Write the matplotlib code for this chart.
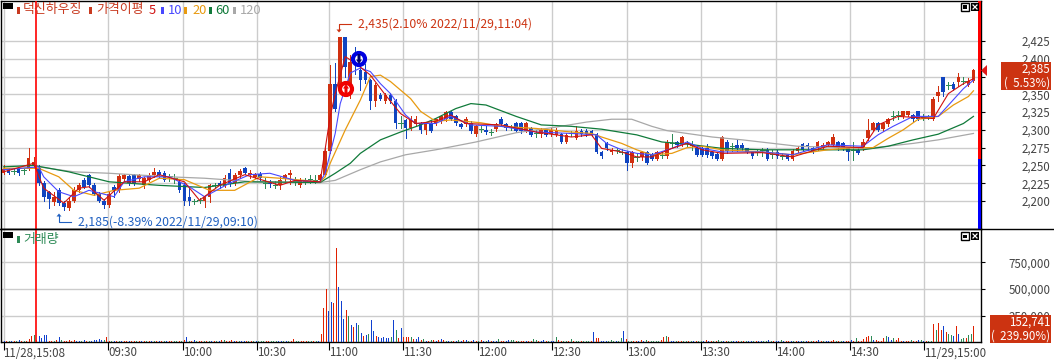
import numpy as np
import matplotlib
matplotlib.use('Agg')
import matplotlib.pyplot as plt
from matplotlib.lines import Line2D
from matplotlib.patches import Rectangle, Polygon, Circle

W, H = 1054, 361
plt.rcParams['font.family'] = ['Noto Sans CJK KR', 'DejaVu Sans']

# --- Price data (one candle per 5 px) ---
opens = [
    2240,2245,2242,2245,2243,2245,2250,2246,2225,2212,
    2198,2215,2197,2190,2200,2215,2230,2237,2222,2210,
    2200,2195,2220,2215,2231,2235,2236,2231,2222,2230,
    2236,2241,2240,2235,2233,2227,2222,2205,2200,2201,
    2200,2205,2222,2226,2221,2240,2225,2236,2247,2236,
    2234,2238,2226,2226,2222,2222,2232,2236,2228,2222,
    2228,2231,2230,2230,2236,2270,2365,2360,2430,2365,
    2400,2384,2382,2370,2340,2349,2340,2349,2340,2310,
    2314,2302,2308,2309,2300,2309,2309,2312,2315,2325,
    2319,2308,2308,2310,2294,2301,2300,2297,2301,2315,
    2308,2304,2309,2309,2299,2302,2296,2294,2300,2294,
    2293,2294,2283,2295,2289,2299,2299,2299,2294,2269,
    2281,2269,2272,2269,2269,2253,2262,2262,2269,2265,
    2259,2265,2263,2282,2283,2280,2281,2279,2274,2274,
    2274,2269,2266,2259,2283,2278,2279,2279,2274,2269,
    2269,2272,2272,2266,2269,2263,2265,2259,2271,2280,
    2279,2274,2274,2274,2279,2279,2283,2281,2274,2272,
    2272,2274,2288,2300,2309,2301,2308,2319,2321,2319,
    2321,2321,2326,2318,2318,2315,2348,2374,2363,2365,
    2368,2369,2363,2369]
closes = [
    2245,2240,2242,2240,2243,2260,2255,2225,2205,2203,
    2205,2197,2192,2200,2215,2222,2220,2222,2210,2200,
    2195,2210,2215,2235,2236,2225,2225,2236,2232,2236,
    2241,2236,2230,2235,2233,2215,2200,2200,2200,2201,
    2205,2222,2222,2221,2232,2225,2236,2242,2240,2240,
    2238,2233,2226,2224,2222,2230,2236,2240,2228,2228,
    2228,2231,2230,2236,2270,2365,2330,2430,2388,2396,
    2393,2370,2370,2340,2363,2344,2349,2340,2309,2310,
    2302,2314,2315,2300,2309,2299,2315,2319,2325,2316,
    2309,2304,2315,2299,2305,2301,2297,2297,2308,2308,
    2302,2304,2299,2299,2309,2293,2296,2300,2293,2300,
    2300,2283,2293,2295,2299,2294,2294,2294,2269,2263,
    2274,2272,2272,2269,2253,2269,2262,2269,2254,2259,
    2269,2265,2283,2282,2279,2290,2281,2279,2265,2265,
    2265,2263,2259,2290,2270,2278,2274,2274,2269,2263,
    2269,2272,2259,2266,2263,2263,2259,2271,2274,2272,
    2276,2269,2283,2279,2283,2290,2274,2274,2269,2272,
    2268,2283,2300,2309,2300,2309,2315,2319,2321,2326,
    2326,2315,2315,2318,2318,2344,2354,2354,2363,2358,
    2374,2369,2369,2384]
highs = [
    2250,2247,2246,2246,2245,2275,2262,2250,2228,2214,
    2212,2218,2200,2205,2220,2226,2232,2238,2226,2212,
    2203,2213,2223,2238,2238,2238,2238,2238,2234,2240,
    2246,2243,2242,2238,2238,2230,2226,2218,2203,2204,
    2207,2224,2225,2228,2236,2245,2239,2245,2248,2244,
    2240,2241,2232,2230,2228,2234,2238,2243,2234,2232,
    2232,2236,2236,2238,2275,2391,2394,2428,2431,2406,
    2416,2395,2392,2372,2366,2352,2352,2352,2343,2319,
    2316,2319,2320,2311,2311,2312,2316,2321,2327,2327,
    2321,2310,2318,2312,2307,2306,2305,2301,2310,2318,
    2310,2307,2311,2311,2311,2304,2300,2302,2302,2302,
    2302,2296,2295,2299,2305,2301,2301,2300,2296,2271,
    2283,2274,2275,2273,2271,2271,2266,2271,2271,2267,
    2271,2269,2286,2294,2285,2292,2285,2284,2278,2278,
    2280,2271,2268,2292,2286,2281,2286,2281,2275,2271,
    2273,2274,2274,2272,2272,2267,2266,2273,2277,2282,
    2281,2276,2285,2281,2285,2294,2285,2283,2276,2283,
    2274,2287,2315,2311,2311,2311,2317,2326,2326,2327,
    2327,2323,2327,2322,2321,2346,2362,2375,2368,2368,
    2380,2374,2373,2386]
lows = [
    2238,2238,2238,2236,2238,2244,2246,2222,2200,2190,
    2195,2195,2187,2188,2198,2213,2218,2220,2208,2198,
    2190,2191,2205,2213,2228,2222,2222,2228,2218,2228,
    2234,2233,2228,2228,2226,2213,2195,2194,2196,2197,
    2192,2198,2218,2218,2219,2221,2222,2233,2238,2233,
    2232,2230,2218,2220,2218,2217,2226,2224,2222,2219,
    2224,2226,2226,2228,2235,2268,2326,2358,2375,2345,
    2378,2356,2366,2330,2334,2342,2338,2338,2302,2302,
    2289,2300,2306,2296,2294,2297,2307,2310,2313,2314,
    2307,2302,2306,2296,2292,2297,2294,2293,2299,2306,
    2300,2300,2297,2296,2297,2291,2290,2290,2292,2292,
    2291,2282,2281,2291,2287,2292,2292,2292,2267,2261,
    2272,2266,2268,2266,2244,2248,2256,2258,2252,2257,
    2257,2260,2261,2276,2276,2278,2276,2272,2263,2263,
    2262,2261,2257,2258,2268,2270,2271,2272,2267,2261,
    2264,2263,2258,2260,2261,2259,2258,2258,2269,2270,
    2272,2268,2272,2272,2277,2277,2272,2272,2258,2258,
    2266,2272,2286,2298,2298,2299,2306,2314,2316,2317,
    2319,2313,2314,2314,2315,2314,2340,2347,2358,2356,
    2362,2365,2362,2368]

# --- Moving averages, read at the candle index where they bend ---
ma5_x = [0,6,8,12,15,17,20,24,28,31,36,39,43,48,55,58,63,65,66,68,70,73,76,79,82,86,89,92,99,106,113,117,119,123,126,129,133,136,139,143,151,157,164,171,174,178,185,188,191,193]
ma5_y = [2241,2253,2218,2197,2218,2220,2201,2227,2227,2237,2227,2201,2222,2237,2222,2229,2227,2319,2351,2403,2394,2377,2349,2323,2309,2312,2321,2309,2307,2297,2290,2293,2274,2269,2262,2262,2274,2281,2272,2267,2268,2262,2277,2275,2307,2319,2316,2351,2365,2372]
ma10_x = [0,7,8,11,14,17,22,24,28,33,37,40,45,49,53,58,63,64,66,67,69,71,73,75,77,80,82,86,89,93,99,106,113,118,120,123,126,129,133,136,139,143,151,157,164,171,174,177,181,186,191,193]
ma10_y = [2244,2248,2234,2213,2206,2215,2206,2227,2234,2234,2220,2206,2225,2237,2239,2229,2227,2239,2295,2337,2380,2387,2382,2365,2351,2321,2309,2309,2319,2307,2305,2297,2295,2293,2281,2272,2267,2265,2274,2283,2274,2269,2269,2265,2279,2277,2293,2305,2319,2319,2358,2370]
ma20_x = [0,7,11,14,18,22,27,31,36,41,46,51,55,63,64,65,68,71,73,75,77,81,83,86,89,95,99,106,113,117,119,123,126,129,133,136,139,143,151,157,164,169,173,176,179,182,186,189,192,193]
ma20_y = [2246,2246,2234,2215,2208,2215,2218,2232,2230,2215,2215,2234,2232,2227,2234,2253,2300,2342,2375,2377,2368,2344,2326,2312,2314,2310,2305,2302,2297,2295,2290,2281,2272,2265,2267,2275,2277,2272,2269,2265,2272,2275,2275,2288,2300,2315,2319,2335,2347,2355]
ma60_x = [0,6,13,21,31,40,48,63,66,69,71,75,79,83,86,90,93,96,102,107,113,119,126,131,136,143,151,171,176,181,186,191,193]
ma60_y = [2248,2250,2241,2227,2222,2219,2227,2226,2239,2253,2267,2286,2297,2307,2316,2330,2337,2335,2319,2307,2305,2301,2293,2283,2280,2274,2272,2272,2277,2286,2294,2309,2319]
ma120_x = [7,14,21,33,40,50,63,66,71,75,80,86,94,102,110,116,121,125,129,132,141,147,158,172,181,186,193]
ma120_y = [2248,2241,2239,2234,2232,2227,2226,2229,2244,2255,2265,2272,2283,2296,2304,2311,2315,2315,2305,2299,2290,2286,2277,2274,2281,2286,2295]

price_ticks = [2425, 2400, 2375, 2350, 2325, 2300, 2275, 2250, 2225, 2200]
vol_ticks = [750000, 500000, 250000]

# --- Volume, in thousands, one bar per minute ---
volumes = [
    12,16,10,14,8,12,20,10,14,12,
    28,59,69,20,56,38,66,66,10,12,
    12,22,47,20,16,16,18,16,18,14,
    12,14,18,10,16,14,22,24,28,20,
    22,47,10,10,12,14,10,14,10,12,
    14,10,12,14,10,12,10,14,12,10,
    14,12,10,14,12,16,10,12,10,12,
    12,10,20,47,16,14,22,12,14,12,
    14,12,16,12,14,10,12,18,20,14,
    14,22,16,14,12,16,10,12,10,12,
    12,10,14,12,10,12,10,12,10,12,
    10,12,10,12,10,14,30,14,10,10,
    10,10,12,12,10,10,14,75,318,500,
    293,375,368,886,518,387,218,300,243,162,
    144,181,162,87,60,69,78,209,106,60,
    47,40,50,44,40,53,209,115,37,134,
    50,50,50,50,31,31,50,25,31,15,
    15,25,20,12,25,30,18,12,16,14,
    12,14,20,14,18,22,12,14,25,16,
    14,18,16,14,22,14,12,16,30,14,
    16,14,22,18,20,14,14,16,12,14,
    12,10,30,20,16,14,18,10,12,14,
    16,50,22,16,12,12,14,28,14,12,
    14,12,16,14,12,14,94,37,37,12,
    12,14,12,18,14,12,16,37,106,28,
    14,12,16,14,16,22,14,20,14,12,
    14,12,14,20,47,56,50,14,12,10,
    12,14,10,14,12,14,12,16,10,14,
    12,20,16,12,16,14,22,14,12,14,
    12,14,12,10,12,14,12,10,14,12,
    14,12,12,12,14,12,18,12,12,10,
    12,20,12,14,12,12,14,12,10,12,
    14,12,14,12,10,14,18,12,12,14,
    12,14,18,16,12,14,10,14,16,20,
    14,37,12,14,30,47,59,59,25,22,
    14,16,37,56,47,22,37,18,37,16,
    14,16,12,18,14,12,18,22,14,12,
    14,14,172,112,181,112,153,94,75,66,
    59,153,75,31,37,37,66,75,153]
vol_colors = (
    "brgbrgbrgr" "rrgrbbbbrr" "grbgrrrrrb" "bgbrgbbbbb" "grrgbrgbrr"
    "brrgrbrgrb" "grbrgbrrgg" "rgrbgrbgrr" "grgbrgbrgr" "rrbrgbbrgr"
    "gbgggrrggg" "bbgbgrrggr" "rrggrgbrrr" "bbrrbbbrgb" "rbgbrbgbbr"
    "bbbbbgbgrb" "rrrgrbbrgb" "rgrbrbrgbg" "rbgbrbgrbr" "grbgbrbbgr"
    "rbbggrgrrb" "rrggrbbrgb" "bgrrggrgrg" "grgggrbrrb" "bbgggbggbr"
    "ggrrbrbgrg" "gggrrgrbbg" "rrggrgbrgg" "brbrgrggbr" "ggbbrgrgbb"
    "grbbggbgrb" "bgbrrbgrbb" "gbrgrrbrgb" "brrgrgbrrb" "rgrrrrrgbr"
    "rrrgbbgrrr" "brrgrrbgbr" "ggrgrrbrgg" "brbggrggr")

# --- Time axis, positions in candle index ---
time_pos = [0, 20.8, 35.7, 50.4, 64.8, 79.5, 94.4, 109.1, 124.1, 138.8, 153.7, 168.4, 183.2]
time_labels = ['11/28,15:08', '09:30', '10:00', '10:30', '11:00', '11:30', '12:00',
               '12:30', '13:00', '13:30', '14:00', '14:30', '11/29,15:00']
day_break = 6.5

RED = '#d03010'
BLUE = '#1044c0'
GREEN = '#2e8b57'
GRID = '#cccccc'
TEXT = '#444444'
col_map = {'r': '#e02000', 'b': '#1040d0', 'g': '#2e8b57'}


def fx(px):
    return px / W


def fy(py):
    return 1 - py / H


def ax_at(x0, y0, x1, y1):
    return fig.add_axes([fx(x0), fy(y1), (x1 - x0) / W, (y1 - y0) / H])


fig = plt.figure(figsize=(W / 100, H / 100), dpi=100, facecolor='white')
ax = ax_at(1, 1, 981, 229)
ax2 = ax_at(1, 229, 981, 342.3)

# --- Candles ---
idx = np.arange(len(opens))
o = np.array(opens)
c = np.array(closes)
candle_col = np.where(c > o, RED, np.where(c < o, BLUE, GREEN))
ax.vlines(idx, lows, highs, colors=candle_col, lw=0.7, zorder=3, antialiased=False)
flat = c == o
ax.bar(idx[~flat], np.abs(c - o)[~flat], bottom=np.minimum(o, c)[~flat], width=0.72,
       color=candle_col[~flat], linewidth=0, zorder=3, antialiased=False)
ax.hlines(c[flat], idx[flat] - 0.45, idx[flat] + 0.45, colors=GREEN, lw=0.7, zorder=3, antialiased=False)

ax.plot(ma120_x, ma120_y, color='#a8a8a8', lw=0.9, zorder=4)
ax.plot(ma60_x, ma60_y, color='#107a3a', lw=0.9, zorder=4)
ax.plot(ma20_x, ma20_y, color='#e89a10', lw=0.9, zorder=4)
ax.plot(ma10_x, ma10_y, color='#4848ff', lw=0.8, zorder=4)
ax.plot(ma5_x, ma5_y, color='#d01010', lw=0.8, zorder=4)

ax.set_xlim(-0.5, 194.5)
ax.set_ylim(2160.6, 2481.3)
ax.set_yticks(price_ticks)
ax.set_yticklabels([f'{v:,}' for v in price_ticks])

# --- Volume ---
vol_x = np.arange(len(volumes)) * 193 / (len(volumes) - 1)
ax2.vlines(vol_x, 0, np.array(volumes) * 1000, colors=[col_map[k] for k in vol_colors],
           lw=0.7, zorder=3, antialiased=False)
ax2.set_xlim(-0.5, 194.5)
ax2.set_ylim(0, 1061000)
ax2.set_yticks(vol_ticks)
ax2.set_yticklabels([f'{v:,}' for v in vol_ticks])

for a in (ax, ax2):
    a.set_axisbelow(True)
    a.grid(True, color=GRID, lw=1)
    a.yaxis.tick_right()
    a.tick_params(axis='y', length=3, width=0.8, color='black', labelsize=8.3, labelcolor=TEXT, pad=47)
    for lab in a.get_yticklabels():
        lab.set_ha('right')
    a.axvline(day_break, color='#ff0000', lw=1.2, zorder=5)
    for s in a.spines.values():
        s.set_color('black')
        s.set_linewidth(1)

ax.set_xticks(time_pos)
ax.tick_params(axis='x', length=0, labelbottom=False)
ax2.set_xticks(time_pos)
ax2.set_xticklabels(time_labels, ha='left')
ax2.tick_params(axis='x', length=5.8, width=0.8, color='black', labelsize=8.3, labelcolor=TEXT, pad=-3)

tr = fig.transFigure


def box(x0, y0, x1, y1, **kw):
    fig.add_artist(Rectangle((fx(x0), fy(y1)), (x1 - x0) / W, (y1 - y0) / H, transform=tr, **kw))


def line(xs, ys, **kw):
    fig.add_artist(Line2D([fx(v) for v in xs], [fy(v) for v in ys], transform=tr, **kw))


# --- Red/blue bar at the right edge and current price marker ---
box(978, 1, 981, 159, color='#ff0000', lw=0, zorder=6)
box(978, 159, 981, 229, color='#0000ff', lw=0, zorder=6)
fig.add_artist(Polygon([(fx(981), fy(70.5)), (fx(987), fy(65)), (fx(987), fy(76))],
                       transform=tr, color='#e01818', lw=0, zorder=6))
line([0, W], [229, 229], color='black', lw=1, zorder=6)

# --- Value boxes ---
box(1001, 62, 1051, 89.5, color='#cc3311', lw=0, zorder=7)
fig.text(fx(1050), fy(69), '2,385', color='white', fontsize=8.3, ha='right', va='center', zorder=8)
fig.text(fx(1050), fy(83), '(  5.53%)', color='white', fontsize=8.3, ha='right', va='center', zorder=8)
box(990, 315, 1051, 343, color='#cc3311', lw=0, zorder=7)
fig.text(fx(1050), fy(322), '152,741', color='white', fontsize=8.3, ha='right', va='center', zorder=8)
fig.text(fx(1050), fy(336), '(  239.90%)', color='white', fontsize=8.3, ha='right', va='center', zorder=8)

# --- Legends ---
leg_fs = 9.3


def legend_item(x, text, color, mark=None):
    if mark is not None:
        box(mark, 7, mark + 3, 14, color=color, lw=0, zorder=6)
    fig.text(fx(x), fy(10), text, color=color, fontsize=leg_fs, ha='left', va='center', zorder=6)


legend_item(23, '덕신하우징', '#c83a20', mark=17)
legend_item(96, '가격이평', '#c83a20', mark=89)
legend_item(149, '5', '#d01010')
legend_item(168, '10', '#4848ff', mark=161)
legend_item(192, '20', '#e89a10', mark=184)
legend_item(215, '60', '#107a3a', mark=209)
legend_item(240, '120', '#a8a8a8', mark=233)
box(17, 236, 20, 243, color=GREEN, lw=0, zorder=6)
fig.text(fx(23), fy(240), '거래량', color=GREEN, fontsize=leg_fs, ha='left', va='center', zorder=6)

# --- Panel icons ---
for top in (3, 232):
    box(3, top, 13, top + 5.5, color='black', lw=0, zorder=6)
    box(961, top, 969, top + 8, facecolor='white', edgecolor='black', lw=1, zorder=6)
    box(963, top + 2.5, 967, top + 5.5, color='black', lw=0, zorder=7)
    box(971, top, 979, top + 8, color='black', lw=0, zorder=7)
    line([973, 977], [top + 2, top + 6], color='white', lw=0.9, zorder=8)
    line([973, 977], [top + 6, top + 2], color='white', lw=0.9, zorder=8)

# --- High and low callouts ---
HI = '#cc3311'
LO = '#2060c0'
line([351, 339, 339], [24, 24, 30], color=HI, lw=0.8, zorder=6)
fig.add_artist(Polygon([(fx(336.5), fy(29.5)), (fx(341.5), fy(29.5)), (fx(339), fy(32.5))],
                       transform=tr, color=HI, lw=0, zorder=6))
fig.text(fx(358), fy(24), '2,435(2.10% 2022/11/29,11:04)', color=HI, fontsize=8.75, ha='left', va='center', zorder=6)
line([71, 59, 59], [222, 222, 216], color=LO, lw=0.8, zorder=6)
fig.add_artist(Polygon([(fx(56.5), fy(216.5)), (fx(61.5), fy(216.5)), (fx(59), fy(213.5))],
                       transform=tr, color=LO, lw=0, zorder=6))
fig.text(fx(78), fy(222), '2,185(-8.39% 2022/11/29,09:10)', color=LO, fontsize=8.85, ha='left', va='center', zorder=6)

# --- Buy / sell badges ---
ax_over = fig.add_axes([0, 0, 1, 1], facecolor='none', zorder=9)
ax_over.set_xlim(0, W)
ax_over.set_ylim(H, 0)
ax_over.axis('off')
ax_over.add_patch(Circle((346, 89), 6, facecolor='white', edgecolor='#f00000', lw=3))
ax_over.add_patch(Polygon([(346, 84), (343, 88.5), (344.5, 88.5), (344.5, 94), (347.5, 94), (347.5, 88.5), (349, 88.5)],
                          facecolor='#f00000', lw=0))
ax_over.add_patch(Circle((359, 59), 6, facecolor='white', edgecolor='#0000e0', lw=3))
ax_over.add_patch(Polygon([(359, 64), (356, 59.5), (357.5, 59.5), (357.5, 54), (360.5, 54), (360.5, 59.5), (362, 59.5)],
                          facecolor='#000070', lw=0))

fig.savefig('out.png', dpi=100)
